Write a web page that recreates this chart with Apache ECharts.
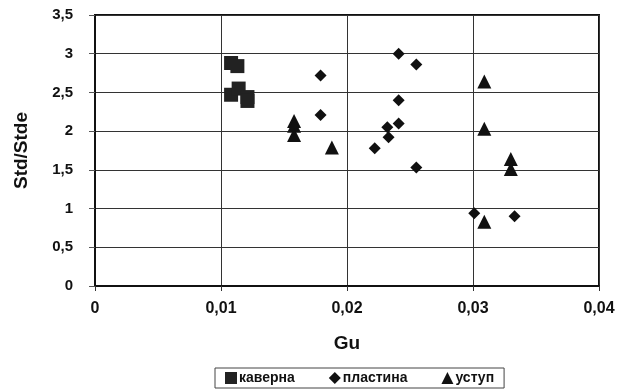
<!DOCTYPE html>
<html>
<head>
<meta charset="utf-8">
<script src="https://cdn.jsdelivr.net/npm/echarts@6/dist/echarts.min.js"></script>
<style>
  html, body { margin: 0; padding: 0; background: #fff; }
  #chart { width: 633px; height: 391px; }
</style>
</head>
<body>
<div id="chart"></div>
<script>
// каверна
const kavernaX = [0.0108, 0.0113, 0.0108, 0.0114, 0.0121, 0.0121];
const kavernaY = [2.88, 2.84, 2.47, 2.55, 2.44, 2.39];
// пластина
const plastinaX = [0.0179, 0.0179, 0.0241, 0.0255, 0.0241, 0.0241, 0.0232, 0.0233, 0.0222, 0.0255, 0.0301, 0.0333];
const plastinaY = [2.72, 2.21, 3.0, 2.86, 2.40, 2.10, 2.05, 1.92, 1.78, 1.53, 0.94, 0.90];
// уступ
const ustupX = [0.0158, 0.0158, 0.0158, 0.0188, 0.0309, 0.0309, 0.0309, 0.0330, 0.0330];
const ustupY = [2.13, 2.07, 1.95, 1.79, 2.64, 2.03, 0.83, 1.64, 1.51];

const xTicks = [0, 0.01, 0.02, 0.03, 0.04];
const yTicks = [0, 0.5, 1, 1.5, 2, 2.5, 3, 3.5];

const pairs = (xs, ys) => xs.map((x, i) => [x, ys[i]]);
const comma = (v) => String(v).replace('.', ',');

const chart = echarts.init(document.getElementById('chart'));
const font = 'Liberation Sans, Arial, sans-serif';

chart.setOption({
  animation: false,
  backgroundColor: '#fff',
  grid: {
    left: 95, right: 34, top: 15, bottom: 105,
    show: true, borderColor: '#111', borderWidth: 2
  },
  xAxis: {
    type: 'value',
    min: xTicks[0], max: xTicks[xTicks.length - 1], interval: 0.01,
    name: 'Gu', nameLocation: 'middle', nameGap: 48,
    nameTextStyle: { fontFamily: font, fontWeight: 'bold', fontSize: 19, color: '#111' },
    axisLine: { lineStyle: { color: '#111', width: 2 } },
    axisTick: { show: true, inside: false, length: 5, lineStyle: { color: '#333' } },
    axisLabel: {
      margin: 15, fontFamily: font, fontWeight: 'bold', fontSize: 16, color: '#111',
      formatter: comma
    },
    splitLine: { show: true, lineStyle: { color: '#333', width: 1 } }
  },
  yAxis: {
    type: 'value',
    min: yTicks[0], max: yTicks[yTicks.length - 1], interval: 0.5,
    name: 'Std/Stde', nameLocation: 'middle', nameGap: 64,
    nameTextStyle: { fontFamily: font, fontWeight: 'bold', fontSize: 19, color: '#111' },
    axisLine: { show: true, lineStyle: { color: '#111', width: 2 } },
    axisTick: { show: true, inside: false, length: 6, lineStyle: { color: '#555' } },
    axisLabel: {
      margin: 22, fontFamily: font, fontWeight: 'bold', fontSize: 15, color: '#111',
      formatter: comma
    },
    splitLine: { show: true, lineStyle: { color: '#333', width: 1 } }
  },
  legend: {
    left: 215, bottom: 3, width: 290,
    itemGap: 34, itemWidth: 12, itemHeight: 12,
    borderColor: '#444', borderWidth: 1, padding: [3, 10, 3, 10],
    textStyle: { fontFamily: font, fontWeight: 'bold', fontSize: 14, color: '#111', padding: [0, 0, 0, -3] },
    data: [
      { name: 'каверна', icon: 'rect' },
      { name: 'пластина', icon: 'diamond' },
      { name: 'уступ', icon: 'triangle' }
    ]
  },
  series: [
    {
      name: 'каверна', type: 'scatter', symbol: 'rect', symbolSize: 14,
      itemStyle: { color: '#222', opacity: 1 },
      data: pairs(kavernaX, kavernaY)
    },
    {
      name: 'пластина', type: 'scatter', symbol: 'diamond', symbolSize: 12,
      itemStyle: { color: '#111', opacity: 1 },
      data: pairs(plastinaX, plastinaY)
    },
    {
      name: 'уступ', type: 'scatter', symbol: 'triangle', symbolSize: 14,
      itemStyle: { color: '#111', opacity: 1 },
      data: pairs(ustupX, ustupY)
    }
  ]
});
</script>
</body>
</html>
